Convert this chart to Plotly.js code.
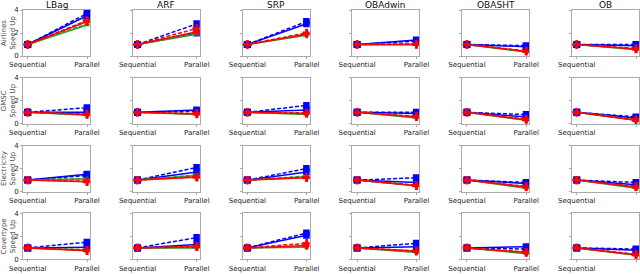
<!DOCTYPE html>
<html><head><meta charset="utf-8">
<script src="https://cdn.plot.ly/plotly-3.0.1.min.js"></script>
<style>body{margin:0;padding:0;background:#fff}#c{width:640px;height:274px}</style>
</head><body><div id="c"></div>
<script>
const datasets = ['Airlines', 'GMSC', 'Electricity', 'Covertype'];
const algorithms = ['LBag', 'ARF', 'SRP', 'OBAdwin', 'OBASHT', 'OB'];
const modes = ['Sequential', 'Parallel'];
const sequentialValue = 1;
// Parallel speed-up values, rows = datasets, columns = algorithms
const blueSolid = [
  [3.5, 2.0, 2.8, 1.4, 0.8, 0.9],
  [1.0, 1.2, 1.2, 0.9, 0.6, 0.5],
  [1.5, 1.7, 1.7, 0.8, 0.7, 0.6],
  [1.05, 1.3, 2.1, 1.1, 1.1, 0.8]
];
const blueDashed = [
  [3.7, 2.8, 3.0, 1.3, 0.9, 1.0],
  [1.4, 1.1, 1.6, 1.0, 0.8, 0.6],
  [1.4, 2.1, 2.0, 1.2, 0.8, 0.8],
  [1.5, 1.9, 2.3, 1.4, 0.9, 0.9]
];
const greenSolid = [
  [2.7, 1.9, 1.8, 1.0, 0.35, 0.55],
  [0.75, 0.8, 0.8, 0.5, 0.3, 0.3],
  [1.1, 1.4, 1.3, 0.5, 0.3, 0.3],
  [0.8, 1.0, 1.05, 0.6, 0.5, 0.35]
];
const greenDashed = [
  [2.8, 2.0, 2.0, 1.0, 0.4, 0.6],
  [0.8, 0.85, 0.85, 0.6, 0.35, 0.35],
  [1.15, 1.45, 1.35, 0.55, 0.35, 0.35],
  [0.85, 1.05, 1.1, 0.65, 0.55, 0.4]
];
const redSolid = [
  [3.0, 2.1, 1.9, 1.0, 0.4, 0.6],
  [0.8, 0.85, 0.9, 0.6, 0.35, 0.3],
  [0.85, 1.25, 1.2, 0.5, 0.4, 0.4],
  [0.75, 1.1, 1.2, 0.7, 0.6, 0.4]
];
const redDashed = [
  [3.1, 2.4, 2.0, 1.05, 0.45, 0.65],
  [0.85, 0.9, 0.95, 0.65, 0.4, 0.35],
  [0.9, 1.3, 1.25, 0.55, 0.45, 0.45],
  [0.8, 1.15, 1.4, 0.75, 0.65, 0.45]
];
const yTicks = [0, 2, 4];

const series = [
  {vals: blueDashed, color: '#0000ff', dash: '4px,2px', sym: 'square', size: 7},
  {vals: blueSolid, color: '#0000ff', dash: 'solid', sym: 'square', size: 7},
  {vals: greenDashed, color: '#2ca02c', dash: '4px,2px', sym: 'triangle-up', size: 5},
  {vals: greenSolid, color: '#2ca02c', dash: 'solid', sym: 'triangle-up', size: 5},
  {vals: redDashed, color: '#ff0000', dash: '4px,2px', sym: 'cross', size: 7},
  {vals: redSolid, color: '#ff0000', dash: 'solid', sym: 'cross', size: 7}
];

const W = 640, H = 274;
const traces = [];
const layout = {
  width: W, height: H, margin: {l: 0, r: 0, t: 0, b: 0},
  paper_bgcolor: '#fff', plot_bgcolor: '#fff', showlegend: false,
  font: {family: 'DejaVu Sans', size: 7, color: '#222'},
  annotations: []
};
for (let r = 0; r < datasets.length; r++) {
  for (let c = 0; c < algorithms.length; c++) {
    const idx = r * algorithms.length + c + 1;
    const xa = 'xaxis' + (idx === 1 ? '' : idx), ya = 'yaxis' + (idx === 1 ? '' : idx);
    const xr = 'x' + (idx === 1 ? '' : idx), yr = 'y' + (idx === 1 ? '' : idx);
    const left = 23 + 109.8 * c, right = left + 67;
    const top = 10 + 67.8 * r, bottom = top + 46;
    layout[xa] = {
      domain: [left / W, right / W], range: [-0.08, 1.05], type: 'linear',
      tickvals: [0, 1], ticktext: modes, showgrid: false, zeroline: false,
      showline: true, mirror: true, linecolor: '#aaaaaa', linewidth: 1,
      ticks: 'outside', ticklen: 2, tickcolor: '#aaaaaa',
      tickfont: {size: 7, color: '#222'}, anchor: yr, fixedrange: true
    };
    layout[ya] = {
      domain: [1 - bottom / H, 1 - top / H], range: [0, 4],
      tickvals: yTicks, showticklabels: c === 0, showgrid: false, zeroline: false,
      showline: true, mirror: true, linecolor: '#aaaaaa', linewidth: 1,
      ticks: 'outside', ticklen: 2, tickcolor: '#aaaaaa',
      tickfont: {size: 7, color: '#222'}, anchor: xr, fixedrange: true
    };
    if (c === 0) {
      layout[ya].title = {text: datasets[r] + '<br>Speed Up', font: {size: 7, color: '#444'}, standoff: 2};
    }
    if (r === 0) {
      layout.annotations.push({
        text: algorithms[c], xref: 'paper', yref: 'paper',
        x: (left + right) / 2 / W, y: 1 - 5 / H, xanchor: 'center', yanchor: 'middle',
        showarrow: false, font: {size: 9, color: '#111'}
      });
    }
    for (const s of series) {
      traces.push({
        x: [0, 1], y: [sequentialValue, s.vals[r][c]], xaxis: xr, yaxis: yr,
        type: 'scatter', mode: 'lines+markers',
        line: {color: s.color, width: 1.5, dash: s.dash},
        marker: {color: s.color, symbol: s.sym, size: s.size},
        hoverinfo: 'skip'
      });
    }
  }
}
Plotly.newPlot('c', traces, layout, {staticPlot: true, displayModeBar: false});
</script></body></html>
